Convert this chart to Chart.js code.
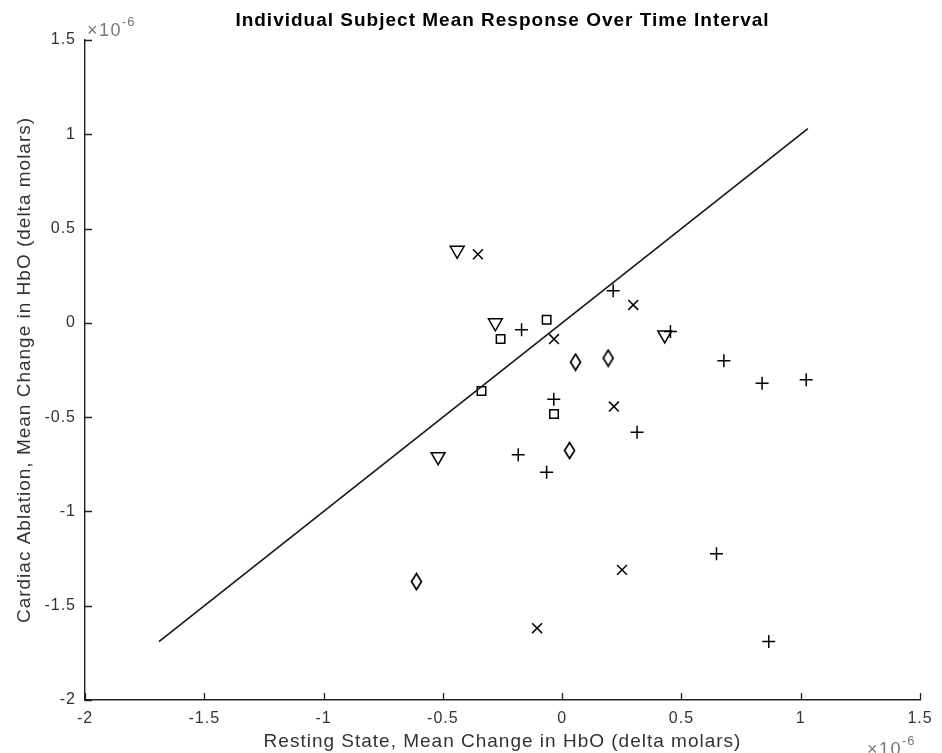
<!DOCTYPE html>
<html>
<head>
<meta charset="utf-8">
<script src="https://cdn.jsdelivr.net/npm/chart.js@4.4.1/dist/chart.umd.min.js"></script>
<style>
  html, body { margin: 0; padding: 0; background: #fff; }
  #wrap { width: 942px; height: 753px; }
</style>
</head>
<body>
<div id="wrap"><canvas id="scatterChart" width="942" height="753"></canvas></div>
<script>
// values in units of 1e-6 molar (axis multiplier shown as x10^-6)
const xTicks = [-2, -1.5, -1, -0.5, 0, 0.5, 1, 1.5];
const yTicks = [-2, -1.5, -1, -0.5, 0, 0.5, 1, 1.5];

const triX = [-0.44, -0.28, -0.52, 0.43];
const triY = [0.385, 0.0, -0.71, -0.064];

const xmarkX = [-0.353, 0.298, -0.034, 0.217, 0.251, -0.105];
const xmarkY = [0.364, 0.095, -0.086, -0.444, -1.31, -1.619];

const squareX = [-0.065, -0.258, -0.338, -0.034];
const squareY = [0.016, -0.086, -0.361, -0.483];

const plusX = [-0.170, 0.214, 0.454, 0.678, 0.838, 1.023, -0.035, 0.314, -0.184, -0.065, 0.647, 0.866];
const plusY = [-0.037, 0.170, -0.046, -0.201, -0.320, -0.302, -0.405, -0.580, -0.700, -0.792, -1.225, -1.690];

const diamondX = [0.056, 0.193, 0.031, -0.611];
const diamondY = [-0.208, -0.187, -0.677, -1.372];

// unity line y = x across the data range
const unityRange = [-1.69, 1.03];

const FONT = "'Liberation Sans', Arial, Helvetica, sans-serif";
const INK = "#000";

function pts(xs, ys) {
  return xs.map((x, i) => ({ x: x, y: ys[i] }));
}

function diamondCanvas() {
  const c = document.createElement("canvas");
  c.width = 15;
  c.height = 19;
  const g = c.getContext("2d");
  g.strokeStyle = INK;
  g.lineWidth = 1.7;
  g.beginPath();
  g.moveTo(7.5, 1.5);
  g.lineTo(12.5, 9.5);
  g.lineTo(7.5, 17.5);
  g.lineTo(2.5, 9.5);
  g.closePath();
  g.stroke();
  return c;
}

function markerSet(label, data, style, radius, rotation) {
  return {
    type: "scatter",
    label: label,
    data: data,
    pointStyle: style,
    pointRadius: radius,
    pointHoverRadius: radius,
    pointRotation: rotation || 0,
    borderColor: INK,
    backgroundColor: "rgba(0,0,0,0)",
    pointBorderWidth: 1.5,
  };
}

// matlab-style spaced-out text
const spacing = {
  id: "spacing",
  beforeLayout(chart) {
    chart.ctx.letterSpacing = "1px";
  },
  beforeDraw(chart) {
    chart.ctx.letterSpacing = "1px";
  },
};

// title, x10^-6 labels and inward tick marks
const decorations = {
  id: "decorations",
  afterDraw(chart) {
    const ctx = chart.ctx;
    const area = chart.chartArea;
    const xs = chart.scales.x;
    const ys = chart.scales.y;
    ctx.save();

    ctx.strokeStyle = "#222";
    ctx.lineWidth = 1.3;
    ctx.beginPath();
    xTicks.forEach((v) => {
      const px = Math.round(xs.getPixelForValue(v)) + 0.5;
      ctx.moveTo(px, area.bottom);
      ctx.lineTo(px, area.bottom - 7);
    });
    yTicks.forEach((v) => {
      const py = Math.round(ys.getPixelForValue(v)) + 0.5;
      ctx.moveTo(area.left, py);
      ctx.lineTo(area.left + 7, py);
    });
    ctx.stroke();

    ctx.fillStyle = "#000";
    ctx.letterSpacing = "1px";
    ctx.font = "bold 19px " + FONT;
    ctx.textAlign = "center";
    ctx.textBaseline = "middle";
    ctx.fillText("Individual Subject Mean Response Over Time Interval", (area.left + area.right) / 2, 21);

    const mult = (x, y) => {
      ctx.fillStyle = "#777";
      ctx.textAlign = "left";
      ctx.textBaseline = "alphabetic";
      ctx.letterSpacing = "1.5px";
      ctx.font = "18px " + FONT;
      ctx.fillText("\u00d710", x, y);
      const w = ctx.measureText("\u00d710").width;
      ctx.letterSpacing = "1px";
      ctx.font = "13px " + FONT;
      ctx.fillText("-6", x + w, y - 10);
    };
    mult(area.left + 2, 36);
    mult(area.right - 53, 755);

    ctx.restore();
  },
};

const scatterCtx = document.getElementById("scatterChart").getContext("2d");
const scatterChart = new Chart(scatterCtx, {
  data: {
    datasets: [
      {
        type: "line",
        label: "Unity",
        data: pts(unityRange, unityRange),
        borderColor: "#1a1a1a",
        borderWidth: 1.7,
        pointRadius: 0,
        fill: false,
      },
      markerSet("Triangle", pts(triX, triY), "triangle", 8, 180),
      markerSet("X", pts(xmarkX, xmarkY), "crossRot", 7),
      markerSet("Square", pts(squareX, squareY), "rect", 6),
      markerSet("Plus", pts(plusX, plusY), "cross", 6.5),
      markerSet("Diamond", pts(diamondX, diamondY), diamondCanvas(), 7),
    ],
  },
  options: {
    responsive: false,
    animation: false,
    layout: {
      padding: { top: 40, right: 22, left: 0, bottom: 0 },
    },
    plugins: {
      legend: { display: false },
      title: { display: false },
      tooltip: { enabled: false },
    },
    scales: {
      x: {
        type: "linear",
        min: -2,
        max: 1.5,
        afterBuildTicks(scale) {
          scale.ticks = xTicks.map((v) => ({ value: v }));
        },
        afterFit(scale) {
          scale.height = 53;
        },
        grid: { display: true, drawOnChartArea: false, drawTicks: false },
        border: { display: true, color: "#222", width: 1.4 },
        ticks: {
          padding: 9,
          color: "#333",
          font: { family: FONT, size: 16 },
          callback: (v) => String(v),
        },
        title: {
          display: true,
          text: "Resting State, Mean Change in HbO (delta molars)",
          color: "#333",
          font: { family: FONT, size: 19 },
          padding: { top: 0, bottom: 0 },
        },
      },
      y: {
        type: "linear",
        min: -2,
        max: 1.5,
        afterBuildTicks(scale) {
          scale.ticks = yTicks.map((v) => ({ value: v }));
        },
        afterFit(scale) {
          scale.width = 85;
        },
        grid: { display: true, drawOnChartArea: false, drawTicks: false },
        border: { display: true, color: "#222", width: 1.4 },
        ticks: {
          padding: 9,
          color: "#333",
          font: { family: FONT, size: 16 },
          callback: (v) => String(v),
        },
        title: {
          display: true,
          text: "Cardiac Ablation, Mean Change in HbO (delta molars)",
          color: "#333",
          font: { family: FONT, size: 19 },
          padding: { top: 13, bottom: 0 },
        },
      },
    },
  },
  plugins: [spacing, decorations],
});
</script>
</body>
</html>
